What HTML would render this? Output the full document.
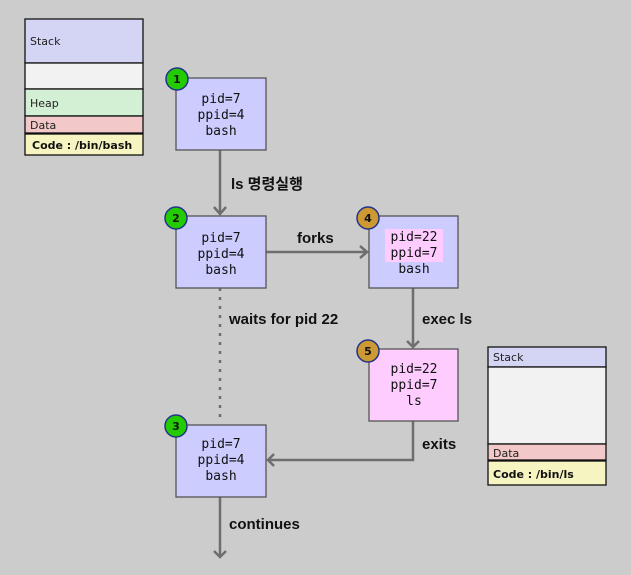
<!DOCTYPE html>
<html><head><meta charset="utf-8"><style>
html,body{margin:0;padding:0;background:#cccccc;}
svg{display:block}
.m{font-family:"DejaVu Sans Mono","Liberation Mono",monospace;font-size:13px;fill:#111;text-anchor:middle}
.l{font-family:"Liberation Sans","Noto Sans CJK KR",sans-serif;font-size:15px;font-weight:bold;fill:#111}
.s{font-family:"DejaVu Sans","Liberation Sans",sans-serif;font-size:11px;fill:#222}
.b{font-family:"DejaVu Sans","Liberation Sans",sans-serif;font-size:11px;font-weight:bold;fill:#111;text-anchor:middle}
</style></head><body>
<svg width="631" height="575" xmlns="http://www.w3.org/2000/svg">
<rect width="631" height="575" fill="#cccccc"/>
<!-- left memory -->
<g stroke="#111" stroke-width="1.3">
<rect x="25" y="19" width="118" height="44" fill="#d4d4f4"/>
<rect x="25" y="63" width="118" height="26" fill="#f2f2f2"/>
<rect x="25" y="89" width="118" height="27" fill="#d4f0d4"/>
<rect x="25" y="116" width="118" height="17" fill="#f2c8c8"/>
<rect x="25" y="134" width="118" height="21" fill="#f6f4c0"/>
</g>
<text class="s" x="30" y="45">Stack</text>
<text class="s" x="30" y="107">Heap</text>
<text class="s" x="30" y="129">Data</text>
<text class="s" x="32" y="149" style="font-weight:bold;fill:#111">Code : /bin/bash</text>
<!-- right memory -->
<g stroke="#111" stroke-width="1.3">
<rect x="488" y="347" width="118" height="20" fill="#d4d4f4"/>
<rect x="488" y="367" width="118" height="77" fill="#f2f2f2"/>
<rect x="488" y="444" width="118" height="16" fill="#f2c8c8"/>
<rect x="488" y="461" width="118" height="24" fill="#f6f4c0"/>
</g>
<text class="s" x="493" y="361">Stack</text>
<text class="s" x="493" y="457">Data</text>
<text class="s" x="493" y="478" style="font-weight:bold;fill:#111">Code : /bin/ls</text>
<!-- connectors -->
<g stroke="#6e6e6e" stroke-width="2.5" fill="none">
<line x1="220" y1="150" x2="220" y2="214"/><polyline points="214,207 220,214 226,207"/>
<line x1="266" y1="252" x2="367" y2="252"/><polyline points="360,246 367,252 360,258"/>
<line x1="220" y1="288" x2="220" y2="422" stroke-dasharray="3,6"/>
<line x1="413" y1="288" x2="413" y2="347"/><polyline points="407,341 413,347 419,341"/>
<polyline points="413,421 413,460 268,460"/><polyline points="274,454 268,460 274,466"/>
<line x1="220" y1="497" x2="220" y2="557"/><polyline points="214,551 220,557 226,551"/>
</g>
<text class="l" x="231" y="189">ls 명령실행</text>
<text class="l" x="297" y="243">forks</text>
<text class="l" x="229" y="324">waits for pid 22</text>
<text class="l" x="422" y="324">exec ls</text>
<text class="l" x="422" y="449">exits</text>
<text class="l" x="229" y="529">continues</text>
<!-- boxes -->
<g stroke="#555" stroke-width="1.3">
<rect x="176" y="78" width="90" height="72" fill="#ccccff"/>
<rect x="176" y="216" width="90" height="72" fill="#ccccff"/>
<rect x="176" y="425" width="90" height="72" fill="#ccccff"/>
<rect x="369" y="216" width="89" height="72" fill="#ccccff"/>
<rect x="369" y="349" width="89" height="72" fill="#ffccff"/>
</g>
<rect x="385" y="229" width="58" height="33" fill="#ffccff"/>
<text class="m" x="221" y="103">pid=7</text><text class="m" x="221" y="119">ppid=4</text><text class="m" x="221" y="135">bash</text>
<text class="m" x="221" y="242">pid=7</text><text class="m" x="221" y="258">ppid=4</text><text class="m" x="221" y="274">bash</text>
<text class="m" x="221" y="448">pid=7</text><text class="m" x="221" y="464">ppid=4</text><text class="m" x="221" y="480">bash</text>
<text class="m" x="414" y="241">pid=22</text><text class="m" x="414" y="257">ppid=7</text><text class="m" x="414" y="273">bash</text>
<text class="m" x="414" y="373">pid=22</text><text class="m" x="414" y="389">ppid=7</text><text class="m" x="414" y="405">ls</text>
<!-- badges -->
<g stroke="#223388" stroke-width="1.5">
<circle cx="177" cy="79" r="11" fill="#22cc00"/>
<circle cx="176" cy="218" r="11" fill="#22cc00"/>
<circle cx="176" cy="426" r="11" fill="#22cc00"/>
<circle cx="368" cy="218" r="11" fill="#cc9933"/>
<circle cx="368" cy="351" r="11" fill="#cc9933"/>
</g>
<text class="b" x="177" y="83">1</text>
<text class="b" x="176" y="222">2</text>
<text class="b" x="176" y="430">3</text>
<text class="b" x="368" y="222">4</text>
<text class="b" x="368" y="355">5</text>
</svg>
</body></html>
